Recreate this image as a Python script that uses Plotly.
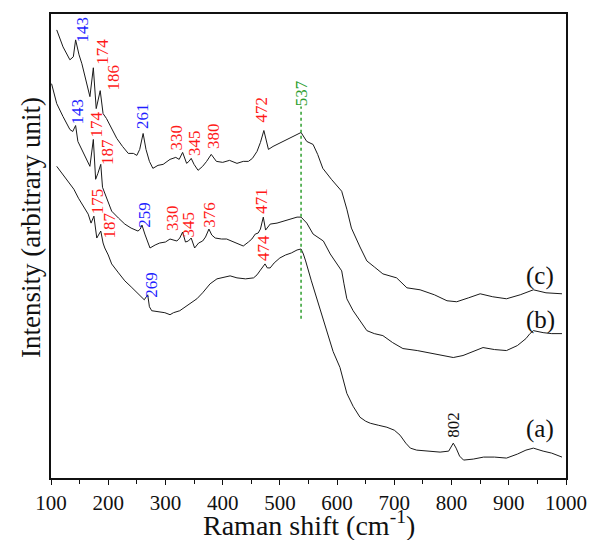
import plotly.graph_objects as go

# ---- data (intensity in arbitrary units) ----
c_x = [110, 121, 133, 139, 143, 149, 154, 168, 174, 179, 186, 191, 197, 205, 215, 225, 235, 244, 250, 255,
       261, 266, 272, 278, 287, 296, 308, 318, 324, 330, 337, 341, 345, 350, 357, 365, 372, 380, 389, 400,
       412, 425, 436, 445, 452, 460, 466, 472, 476, 480, 488, 495, 503, 512, 520, 528, 537, 547, 558, 566,
       575, 590, 608, 617, 625, 640, 652, 665, 680, 704, 722, 745, 770, 792, 809, 830, 850, 872, 896, 920,
       943, 965, 993]
c_y = [450, 433, 420, 423, 440, 425, 416, 383, 412, 371, 389, 366, 361, 352, 341, 333, 326, 326, 324, 330,
       346, 330, 318, 311, 314, 315, 320, 322, 320, 327, 316, 318, 321, 315, 309, 313, 318, 325, 318, 317,
       319, 316, 318, 318, 321, 328, 337, 349, 338, 330, 333, 335, 337, 340, 342, 344, 347, 338, 335, 325,
       311, 300, 288, 270, 251, 232, 218, 212, 205, 201, 191, 189, 184, 178, 177, 181, 185, 182, 180, 184,
       189, 186, 185]

b_x = [101, 110, 121, 133, 138, 143, 147, 153, 160, 168, 174, 178, 182, 187, 190, 198, 206, 218, 229, 240,
       252, 256, 259, 264, 273, 282, 290, 300, 308, 320, 325, 330, 335, 340, 345, 351, 358, 365, 370, 376,
       381, 387, 398, 407, 416, 424, 436, 445, 451, 457, 462, 466, 471, 475, 483, 495, 506, 518, 530, 537,
       547, 558, 576, 588, 600, 608, 612, 617, 628, 640, 652, 665, 680, 697, 715, 740, 768, 790, 803, 820,
       838, 855, 875, 896, 915, 930, 937, 943, 960, 975, 993]
b_y = [396, 376, 363, 350, 348, 354, 338, 331, 322, 313, 340, 300, 306, 315, 292, 279, 268, 261, 255, 251,
       248, 250, 254, 245, 231, 234, 236, 237, 240, 238, 241, 247, 237, 238, 241, 231, 236, 238, 242, 250,
       244, 241, 240, 240, 238, 236, 233, 237, 240, 245, 246, 250, 262, 249, 255, 256, 258, 260, 262, 262,
       256, 245, 238, 225, 215, 208, 195, 180, 168, 158, 148, 145, 143, 136, 130, 128, 125, 122, 121, 123,
       127, 131, 129, 128, 133, 140, 145, 148, 146, 145, 145]

a_x = [110, 120, 130, 140, 148, 157, 165, 170, 175, 180, 187, 191, 194, 200, 206, 218, 229, 240, 250, 258,
       263, 269, 272, 276, 285, 299, 308, 314, 325, 337, 345, 355, 365, 378, 390, 400, 413, 425, 440, 454,
       460, 465, 474, 478, 483, 490, 500, 510, 520, 530, 537, 541, 545, 555, 570, 580, 593, 605, 612, 617,
       628, 640, 650, 658, 672, 687, 700, 710, 720, 728, 739, 760, 780, 795, 800, 803, 808, 814, 821, 838,
       856, 875, 896, 915, 930, 943, 960, 975, 993]
a_y = [313, 305, 298, 290, 281, 272, 265, 256, 263, 241, 248, 236, 231, 224, 215, 206, 198, 192, 186, 181,
       179, 184, 172, 168, 167, 166, 164, 166, 168, 173, 176, 180, 186, 195, 200, 201, 203, 201, 200, 201,
       204, 208, 215, 211, 211, 216, 221, 224, 226, 229, 230, 225, 218, 198, 170, 150, 127, 111, 95, 85,
       72, 61, 57, 55, 53, 51, 48, 43, 35, 30, 28, 27, 26, 27, 33, 35, 30, 22, 18, 19,
       21, 21, 20, 24, 28, 30, 27, 25, 21]

# peak labels: text, position (x in cm-1, y in intensity units), colour name
peak_text = ["143", "174", "186", "261", "330", "345", "380", "472",
             "143", "174", "187", "259", "330", "345", "376", "471",
             "175", "187", "269", "474", "802"]
peak_x = [155, 190, 209.6, 259, 319.3, 351.7, 384, 467.9,
          146.3, 177.8, 198.7, 264.3, 312.3, 341.2, 377.9, 467.9,
          180.4, 203.1, 275.6, 471.4, 803.4]
peak_y = [451, 427.5, 402, 363.5, 342.5, 336.5, 343, 369.5,
          368.5, 354.5, 328, 264.5, 261.5, 254.5, 264.5, 278,
          278, 253.5, 194.5, 230.5, 53]
peak_col = ["blue", "red", "red", "blue", "red", "red", "red", "red",
            "blue", "red", "red", "blue", "red", "red", "red", "red",
            "red", "red", "blue", "red", "black"]

band_x = 537
band_label_y = 386.5
band_line_y = [160, 373]

curve_names = ["(c)", "(b)", "(a)"]
curve_label_x = [954.6, 954.6, 954.6]
curve_label_y = [203, 159, 49]

x_ticks = [100, 200, 300, 400, 500, 600, 700, 800, 900, 1000]

# ---- figure ----
FONT = "Liberation Serif"
COLS = {"blue": "#1f1fff", "red": "#ff1a1a", "black": "#111111", "green": "#2e9e2e"}

fig = go.Figure()
for xs, ys in [(c_x, c_y), (b_x, b_y), (a_x, a_y)]:
    fig.add_trace(go.Scatter(x=xs, y=ys, mode="lines",
                             line=dict(color="#1a1a1a", width=1), showlegend=False,
                             hoverinfo="skip"))

fig.add_shape(type="line", x0=band_x, x1=band_x, y0=band_line_y[0], y1=band_line_y[1],
              xref="x", yref="y", line=dict(color=COLS["green"], width=1.5, dash="dot"))

for t, x, y, c in zip(peak_text, peak_x, peak_y, peak_col):
    fig.add_annotation(x=x, y=y, text=t, showarrow=False, textangle=-90,
                       xanchor="center", yanchor="middle",
                       font=dict(family=FONT, size=17, color=COLS[c]))
fig.add_annotation(x=band_x, y=band_label_y, text=str(band_x), showarrow=False, textangle=-90,
                   xanchor="center", yanchor="middle",
                   font=dict(family=FONT, size=17, color=COLS["green"]))

for t, x, y in zip(curve_names, curve_label_x, curve_label_y):
    fig.add_annotation(x=x, y=y, text=t, showarrow=False,
                       xanchor="center", yanchor="middle",
                       font=dict(family=FONT, size=25, color="#111111"))

fig.add_annotation(x=-0.039, y=0.541, xref="paper", yref="paper",
                   text="Intensity (arbitrary unit)", showarrow=False, textangle=-90,
                   xanchor="center", yanchor="middle",
                   font=dict(family=FONT, size=27, color="#111111"))

fig.add_annotation(x=0.5, y=-0.099, xref="paper", yref="paper",
                   text="Raman shift (cm<sup>-1</sup>)", showarrow=False,
                   xanchor="center", yanchor="middle",
                   font=dict(family=FONT, size=28, color="#111111"))

# the page body has an 8px default margin, so margins are reduced by 8px on the top/left
fig.update_layout(
    width=599, height=540,
    margin=dict(l=43, r=41, t=4, b=70),
    paper_bgcolor="white", plot_bgcolor="white",
    font=dict(family=FONT, color="#111111"),
    xaxis=dict(range=[100, 1000], tickvals=x_ticks, ticktext=[str(v) for v in x_ticks],
               ticks="outside", ticklen=5, tickwidth=1, tickcolor="#111111",
               minor=dict(tickvals=[150, 250, 350, 450, 550, 650, 750, 850, 950],
                          ticks="outside", ticklen=4, tickcolor="#111111"),
               showline=True, linecolor="#111111", linewidth=1.5, mirror=True,
               showgrid=False, zeroline=False,
               tickfont=dict(family=FONT, size=21, color="#111111")),
    yaxis=dict(range=[0, 466], showticklabels=False, ticks="",
               showline=True, linecolor="#111111", linewidth=1.5, mirror=True,
               showgrid=False, zeroline=False),
)

fig.write_html("out.html")
